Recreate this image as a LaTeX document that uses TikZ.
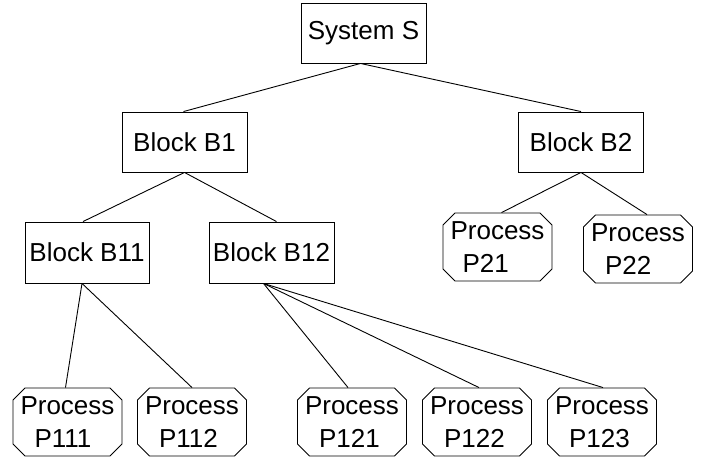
\documentclass[tikz,border=0pt]{standalone}
\usepackage{fontspec}
\setmainfont{Liberation Sans}
\usetikzlibrary{shapes.misc}
\begin{document}
\begin{tikzpicture}[x=1pt,y=-1pt,
  every node/.style={font=\fontsize{26}{32.5}\selectfont},
  blockbox/.style={draw,line width=0.9pt,rectangle,inner sep=0pt,minimum width=125pt,minimum height=60pt},
  procbox/.style={draw,line width=0.9pt,chamfered rectangle,chamfered rectangle xsep=6pt,chamfered rectangle ysep=6pt,inner sep=0pt,minimum width=109pt,minimum height=68pt,align=left},
  link/.style={line width=0.9pt}]
\useasboundingbox (0,0) rectangle (704,461);
\node[blockbox] (S) at (363.5,33) {System S};
\node[blockbox] (B1) at (184.5,142) {Block B1};
\node[blockbox] (B2) at (581,142) {Block B2};
\node[blockbox,minimum width=124pt,minimum height=61pt] (B11) at (87,252.5) {Block B11};
\node[blockbox,minimum width=125pt,minimum height=61pt] (B12) at (271.5,252.5) {Block B12};
\node[procbox] (P21) at (497.5,247) {Process\\\hspace{12pt}P21};
\node[procbox] (P22) at (638,249) {Process\\\hspace{14pt}P22};
\node[procbox] (P111) at (67.5,422) {Process\\\hspace{14pt}P111};
\node[procbox] (P112) at (192,422) {Process\\\hspace{14pt}P112};
\node[procbox] (P121) at (352,422) {Process\\\hspace{14pt}P121};
\node[procbox] (P122) at (477,422) {Process\\\hspace{14pt}P122};
\node[procbox] (P123) at (602,422) {Process\\\hspace{14pt}P123};
\draw[link] ([xshift=-3pt]S.south) -- ([xshift=-1pt]B1.north);
\draw[link] ([xshift=-3pt]S.south) -- (B2.north);
\draw[link] (B1.south) -- ([xshift=-4pt]B11.north);
\draw[link] (B1.south) -- ([xshift=5pt]B12.north);
\draw[link] (B2.south) -- ([xshift=4pt]P21.north);
\draw[link] (B2.south) -- ([xshift=9pt]P22.north);
\draw[link] ([xshift=-5pt]B11.south) -- ([xshift=-2pt]P111.north);
\draw[link] ([xshift=-5pt]B11.south) -- (P112.north);
\draw[link] ([xshift=-8pt]B12.south) -- ([xshift=-4pt]P121.north);
\draw[link] ([xshift=-8pt]B12.south) -- ([xshift=2pt]P122.north);
\draw[link] ([xshift=-8pt]B12.south) -- ([xshift=1pt]P123.north);
\end{tikzpicture}
\end{document}
